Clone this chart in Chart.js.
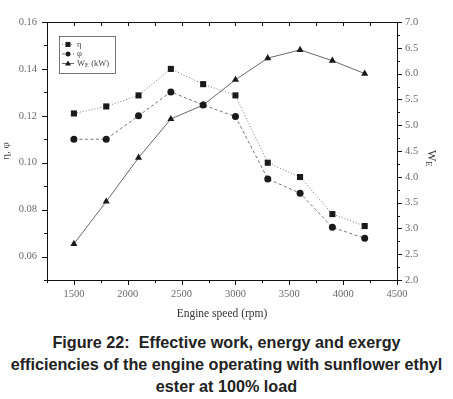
<!DOCTYPE html>
<html>
<head>
<meta charset="utf-8">
<script src="https://cdn.jsdelivr.net/npm/chart.js@4"></script>
<style>
  body { margin: 0; background: #fff; }
  .wrap { position: relative; width: 453px; height: 322px; }
  .caption {
    width: 453px; text-align: center; font-family: "Liberation Sans", Arial, sans-serif;
    font-weight: bold; font-size: 16.2px; line-height: 22px; color: #222; margin-top: 9px;
  }
</style>
</head>
<body>
<div class="wrap"><canvas id="chart" width="453" height="322"></canvas></div>
<div class="caption">Figure 22:&nbsp; Effective work, energy and exergy<br>efficiencies of the engine operating with sunflower ethyl<br>ester at 100% load</div>
<script>
const speeds = [1500, 1800, 2100, 2400, 2700, 3000, 3300, 3600, 3900, 4200];
const eta = [0.121, 0.124, 0.1287, 0.140, 0.1335, 0.1287, 0.100, 0.0939, 0.0781, 0.073];
const phi = [0.110, 0.110, 0.120, 0.1302, 0.1246, 0.1197, 0.0931, 0.087, 0.0725, 0.0678];
const workE = [2.70, 3.52, 4.37, 5.12, 5.39, 5.88, 6.30, 6.46, 6.25, 6.00];

const serif = '"Liberation Serif", "Times New Roman", serif';
const tickGray = '#6a6a6a';

// minor + major tick marks, frame, legend, right title
const decor = {
  id: 'decor',
  afterDraw(chart) {
    const ctx = chart.ctx;
    const a = chart.chartArea;
    const x = chart.scales.x, y = chart.scales.y, y1 = chart.scales.y1;
    ctx.save();
    ctx.strokeStyle = '#111';
    ctx.lineWidth = 1;
    ctx.strokeRect(Math.round(a.left) + 0.5, Math.round(a.top) + 0.5, Math.round(a.right - a.left), Math.round(a.bottom - a.top));
    ctx.beginPath();
    for (let v = 1250; v <= 4500; v += 250) {
      const px = Math.round(x.getPixelForValue(v)) + 0.5;
      const len = v % 500 === 0 ? 5 : 3;
      ctx.moveTo(px, a.bottom); ctx.lineTo(px, a.bottom + len);
      ctx.moveTo(px, a.top); ctx.lineTo(px, a.top + 4);
    }
    for (let i = 5; i <= 16; i++) {
      const py = Math.round(y.getPixelForValue(i / 100)) + 0.5;
      const len = i % 2 === 0 ? 5 : 3;
      ctx.moveTo(a.left, py); ctx.lineTo(a.left - len, py);
    }
    for (let i = 8; i <= 28; i++) {
      const py = Math.round(y1.getPixelForValue(i / 4)) + 0.5;
      const len = i % 2 === 0 ? 5 : 3;
      ctx.moveTo(a.right, py); ctx.lineTo(a.right + len, py);
    }
    ctx.stroke();

    // right axis title W_E, rotated clockwise
    ctx.fillStyle = '#333';
    ctx.translate(431, (a.top + a.bottom) / 2 + 7);
    ctx.rotate(Math.PI / 2);
    ctx.textBaseline = 'middle';
    ctx.font = '12px ' + serif;
    const wW = ctx.measureText('W').width;
    ctx.font = '8px ' + serif;
    const wE = ctx.measureText('E').width;
    ctx.font = '12px ' + serif;
    ctx.fillText('W', -(wW + wE) / 2, 0);
    ctx.font = '8px ' + serif;
    ctx.fillText('E', -(wW + wE) / 2 + wW, 3);
    ctx.restore();

    // legend box
    ctx.save();
    ctx.strokeStyle = '#555';
    ctx.lineWidth = 0.8;
    ctx.strokeRect(59.5, 36.5, 56, 37);
    const rows = [44.5, 54, 63.5];
    chart.data.datasets.forEach((ds, i) => {
      const yy = rows[i];
      ctx.strokeStyle = ds.borderColor;
      ctx.lineWidth = ds.borderWidth;
      ctx.setLineDash(ds.borderDash || []);
      ctx.beginPath(); ctx.moveTo(62, yy); ctx.lineTo(74, yy); ctx.stroke();
      ctx.setLineDash([]);
      ctx.fillStyle = '#1a1a1a';
      const r = 2.5;
      ctx.beginPath();
      if (ds.pointStyle === 'rect') ctx.rect(68 - r, yy - r, 2 * r, 2 * r);
      else if (ds.pointStyle === 'circle') ctx.arc(68, yy, r, 0, Math.PI * 2);
      else { ctx.moveTo(68, yy - r - 0.5); ctx.lineTo(68 + r + 0.5, yy + r - 0.5); ctx.lineTo(68 - r - 0.5, yy + r - 0.5); ctx.closePath(); }
      ctx.fill();
      ctx.fillStyle = '#444';
      ctx.textBaseline = 'middle';
      ctx.font = '8.5px ' + serif;
      const lbl = ds.label;
      if (lbl.indexOf('_') >= 0) {
        ctx.fillText('W', 77, yy);
        const w1 = ctx.measureText('W').width;
        ctx.font = '6px ' + serif;
        ctx.fillText('E', 77 + w1, yy + 2);
        ctx.font = '8.5px ' + serif;
        ctx.fillText(' (kW)', 77 + w1 + 4, yy);
      } else {
        ctx.fillText(lbl, 77, yy);
      }
    });
    ctx.restore();
  }
};

new Chart(document.getElementById('chart'), {
  type: 'line',
  data: {
    labels: speeds,
    datasets: [{
      label: 'η',
      data: speeds.map((s, i) => ({ x: s, y: eta[i] })),
      yAxisID: 'y',
      borderColor: '#777',
      borderWidth: 1,
      borderDash: [1, 2],
      pointStyle: 'rect',
      pointRadius: 4.3,
      pointBackgroundColor: '#1a1a1a',
      pointBorderColor: '#1a1a1a',
      pointBorderWidth: 0
    }, {
      label: 'φ',
      data: speeds.map((s, i) => ({ x: s, y: phi[i] })),
      yAxisID: 'y',
      borderColor: '#666',
      borderWidth: 0.9,
      borderDash: [3, 2.5],
      pointStyle: 'circle',
      pointRadius: 3.5,
      pointBackgroundColor: '#1a1a1a',
      pointBorderColor: '#1a1a1a',
      pointBorderWidth: 0
    }, {
      label: 'W_E (kW)',
      data: speeds.map((s, i) => ({ x: s, y: workE[i] })),
      yAxisID: 'y1',
      borderColor: '#444',
      borderWidth: 0.8,
      pointStyle: 'triangle',
      pointRadius: 4.1,
      pointBackgroundColor: '#1a1a1a',
      pointBorderColor: '#1a1a1a',
      pointBorderWidth: 0
    }]
  },
  options: {
    responsive: false,
    animation: false,
    layout: { padding: { top: 22, left: 0, right: 0, bottom: 0 } },
    plugins: {
      legend: { display: false },
      tooltip: { enabled: false }
    },
    scales: {
      x: {
        type: 'linear',
        min: 1250,
        max: 4500,
        afterFit: s => { s.height = 42; },
        afterBuildTicks: s => { s.ticks = [1500, 2000, 2500, 3000, 3500, 4000, 4500].map(v => ({ value: v })); },
        grid: { display: false, drawTicks: false },
        border: { display: false },
        ticks: { padding: 8, color: tickGray, font: { family: serif, size: 10.5 }, maxRotation: 0, callback: v => v },
        title: { display: true, text: 'Engine speed (rpm)', color: '#333', font: { family: serif, size: 11.5 }, padding: { top: 0, bottom: 1 } }
      },
      y: {
        position: 'left',
        min: 0.05,
        max: 0.16,
        afterFit: s => { s.width = 47; },
        afterBuildTicks: s => { s.ticks = [0.06, 0.08, 0.10, 0.12, 0.14, 0.16].map(v => ({ value: v })); },
        grid: { display: false, drawTicks: false },
        border: { display: false },
        ticks: { padding: 10, color: tickGray, font: { family: serif, size: 10.5 }, callback: v => v.toFixed(2) },
        title: { display: true, text: 'η, φ', color: '#444', font: { family: serif, size: 11 }, padding: { top: 0, bottom: 0 } }
      },
      y1: {
        position: 'right',
        min: 2,
        max: 7,
        afterFit: s => { s.width = 56; },
        afterBuildTicks: s => { s.ticks = [2, 2.5, 3, 3.5, 4, 4.5, 5, 5.5, 6, 6.5, 7].map(v => ({ value: v })); },
        grid: { display: false, drawTicks: false },
        border: { display: false },
        ticks: { padding: 8, color: tickGray, font: { family: serif, size: 10.5 }, callback: v => v.toFixed(1) }
      }
    }
  },
  plugins: [decor]
});
</script>
</body>
</html>
